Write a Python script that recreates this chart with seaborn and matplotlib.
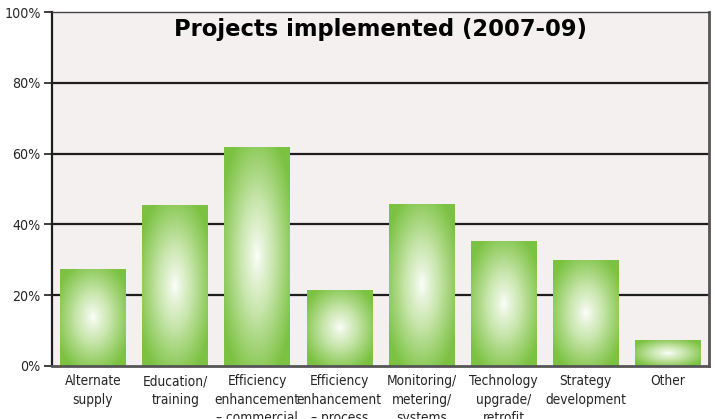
import numpy as np
import matplotlib
matplotlib.use("Agg")
import matplotlib.pyplot as plt
from matplotlib.colors import LinearSegmentedColormap
import seaborn as sns
import pandas as pd

# data
categories = [
    "Alternate\nsupply",
    "Education/\ntraining",
    "Efficiency\nenhancement\n\u2013 commercial",
    "Efficiency\nenhancement\n\u2013 process",
    "Monitoring/\nmetering/\nsystems",
    "Technology\nupgrade/\nretrofit",
    "Strategy\ndevelopment",
    "Other",
]
shares = [27.5, 45.5, 62.0, 21.5, 45.8, 35.3, 29.9, 7.3]
y_ticks = [0, 20, 40, 60, 80, 100]
y_tick_labels = [f"{v}%" for v in y_ticks]
title = "Projects implemented (2007-09)"

green = "#7cc242"
plot_bg = "#f4f0ef"
dark = "#1e1e1e"
edge_grey = "#555555"

df = pd.DataFrame({"category": categories, "share": shares})

sns.set_style("white")
plt.rcParams["font.family"] = ["DejaVu Sans"]
plt.rcParams["font.stretch"] = "condensed"

fig = plt.figure(figsize=(7.16, 4.19), dpi=100)
ax = fig.add_axes([0.0726, 0.1265, 0.9174, 0.8445])
fig.set_facecolor("white")
ax.set_facecolor(plot_bg)

sns.barplot(data=df, x="category", y="share", ax=ax, color=green, width=0.8,
            saturation=1, zorder=2)

# radial white-to-green fill inside each bar
cmap = LinearSegmentedColormap.from_list("glow", ["#ffffff", "#c9e6ad", green])
n = 200
gx, gy = np.meshgrid(np.linspace(-1, 1, n), np.linspace(-1, 1, n))
r = np.sqrt(gx ** 2 + gy ** 2)
t = np.clip(r / 1.2, 0, 1) ** 0.8
img = cmap(t)
for bar in ax.patches:
    x0, y0 = bar.get_x(), bar.get_y()
    w, h = bar.get_width(), bar.get_height()
    bar.set_facecolor("none")
    bar.set_edgecolor("none")
    im = ax.imshow(img, extent=[x0, x0 + w, y0, y0 + h], aspect="auto",
                   interpolation="bilinear", zorder=3)
    im.set_clip_path(bar)

ax.set_xlim(-0.5, len(categories) - 0.5)
ax.set_ylim(0, 100)
ax.set_yticks(y_ticks)
ax.set_yticklabels(y_tick_labels, fontsize=10.2)
ax.set_xlabel("")
ax.set_ylabel("")

# grid lines behind bars
for v in y_ticks[1:-1]:
    ax.axhline(v, color=dark, lw=1.6, zorder=1)

ax.tick_params(axis="y", length=6, width=1.2, color=dark, pad=2, left=True)
ax.tick_params(axis="x", length=0, pad=6, labelsize=9.8)
for lbl in ax.get_xticklabels():
    lbl.set_linespacing(1.4)

ax.spines["left"].set_color(dark)
ax.spines["left"].set_linewidth(1.6)
ax.spines["bottom"].set_color(edge_grey)
ax.spines["bottom"].set_linewidth(2)
ax.spines["right"].set_color(edge_grey)
ax.spines["right"].set_linewidth(2)
ax.spines["top"].set_color("#444444")
ax.spines["top"].set_linewidth(1)
for s in ax.spines.values():
    s.set_zorder(5)

ax.text(0.5, 0.95, title, transform=ax.transAxes, ha="center", va="center",
        fontsize=16.3, fontweight="bold", family=["DejaVu Sans"],
        stretch="normal", color="black", zorder=6)

fig.savefig("out.png", dpi=100)
